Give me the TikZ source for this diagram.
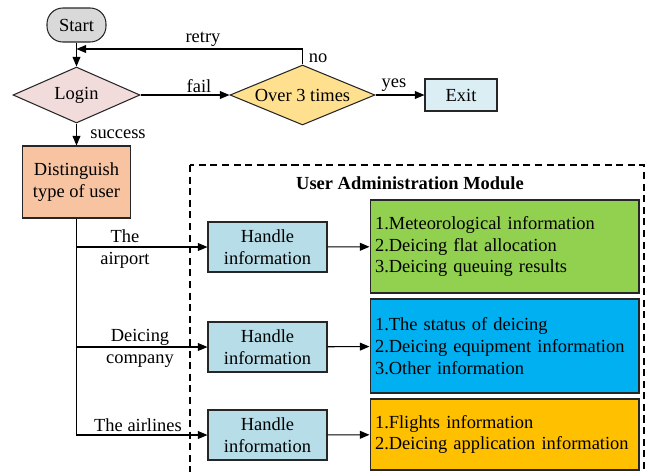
\documentclass[tikz,border=0pt]{standalone}
\usepackage{fontspec}
\setmainfont{Liberation Serif}
\usetikzlibrary{shapes.geometric,arrows.meta}

\definecolor{startgray}{HTML}{D9D9D9}
\definecolor{loginpink}{HTML}{F2DCDB}
\definecolor{overyellow}{HTML}{FFE08F}
\definecolor{exitblue}{HTML}{DBEEF4}
\definecolor{distpeach}{HTML}{F8C3A0}
\definecolor{handleblue}{HTML}{B7DEE8}
\definecolor{infogreen}{HTML}{92D050}
\definecolor{infoblue}{HTML}{00B0F0}
\definecolor{infoorange}{HTML}{FFC000}

\tikzset{
  every node/.style={font=\fontsize{10.5}{12.5}\selectfont},
  flowbox/.style={draw=black!85, line width=0.6pt, align=center, inner sep=1pt},
  decision/.style={flowbox, diamond, aspect=2.3},
  handlebox/.style={flowbox, fill=handleblue, minimum width=2.38cm, minimum height=1cm},
  infobox/.style={flowbox, align=left, text width=5.18cm, inner xsep=0.1cm},
  flowline/.style={line width=0.6pt, -{Triangle[length=5.5pt,width=4.5pt]}},
  plainline/.style={line width=0.6pt}
}

\begin{document}
\begin{tikzpicture}[x=0.02cm, y=-0.02cm]
  \useasboundingbox (0,0) rectangle (650,471);
  \clip (0,0) rectangle (650,471);

  % module frame
  \draw[dash pattern=on 4pt off 2.6pt, line width=0.6pt] (190,165) rectangle (644,490);
  \node[font=\fontsize{10.5}{12.5}\selectfont\bfseries] (moduletitle) at (410,183) {User Administration Module};

  % login part
  \node[flowbox, fill=startgray, rounded corners=9pt, minimum width=1.18cm, minimum height=0.68cm] (start) at (76.5,25) {Start};
  \node[decision, fill=loginpink, minimum width=2.54cm, minimum height=1.12cm] (login) at (76.5,95) {Login};
  \node[decision, fill=overyellow, minimum width=2.9cm, minimum height=1.2cm] (over) at (302.5,95) {Over 3 times};
  \node[flowbox, fill=exitblue, minimum width=1.44cm, minimum height=0.64cm] (exit) at (461,95) {Exit};
  \node[flowbox, fill=distpeach, minimum width=2.16cm, minimum height=1.44cm] (dist) at (76.5,182) {Distinguish\\type of user};
  \coordinate (retryend) at (76.5,49);

  \draw[flowline] (start) -- (login);
  \draw[flowline] (login) -- (over);
  \draw[flowline] (over) -- (exit);
  \draw[flowline] (login) -- (dist);
  \draw[flowline] (over.north) |- (retryend);

  \node (retrylabel) at (203,39) {retry};
  \node (nolabel) at (318,58) {no};
  \node (faillabel) at (199,86) {fail};
  \node (yeslabel) at (394,85) {yes};
  \node (successlabel) at (118,134) {success};

  % user types
  \node[handlebox] (handleA) at (267.5,247) {Handle\\information};
  \node[handlebox] (handleB) at (267.5,347) {Handle\\information};
  \node[handlebox] (handleC) at (267.5,435) {Handle\\information};

  \node[infobox, fill=infogreen, minimum height=1.86cm] (infoA) at (504.5,246.5)
    {1.Meteorological information\\2.Deicing flat allocation\\3.Deicing queuing results};
  \node[infobox, fill=infoblue, minimum height=1.88cm] (infoB) at (504.5,346)
    {1.The status of deicing\\2.Deicing equipment information\\3.Other information};
  \node[infobox, fill=infoorange, minimum height=1.42cm] (infoC) at (504.5,434.5)
    {1.Flights information\\2.Deicing application information};

  \draw[flowline] (dist.south) |- (handleA.west);
  \draw[flowline] (dist.south) |- (handleB.west);
  \draw[flowline] (dist.south) |- (handleC.west);
  \draw[flowline] (handleA) -- (infoA);
  \draw[flowline] (handleB) -- (infoB);
  \draw[flowline] (handleC) -- (infoC);

  \node[align=center] (airportlabel) at (125,249) {The\\airport};
  \node[align=center] (companylabel) at (140,348.5) {Deicing\\company};
  \node (airlinelabel) at (138,425.5) {The airlines};
\end{tikzpicture}
\end{document}
